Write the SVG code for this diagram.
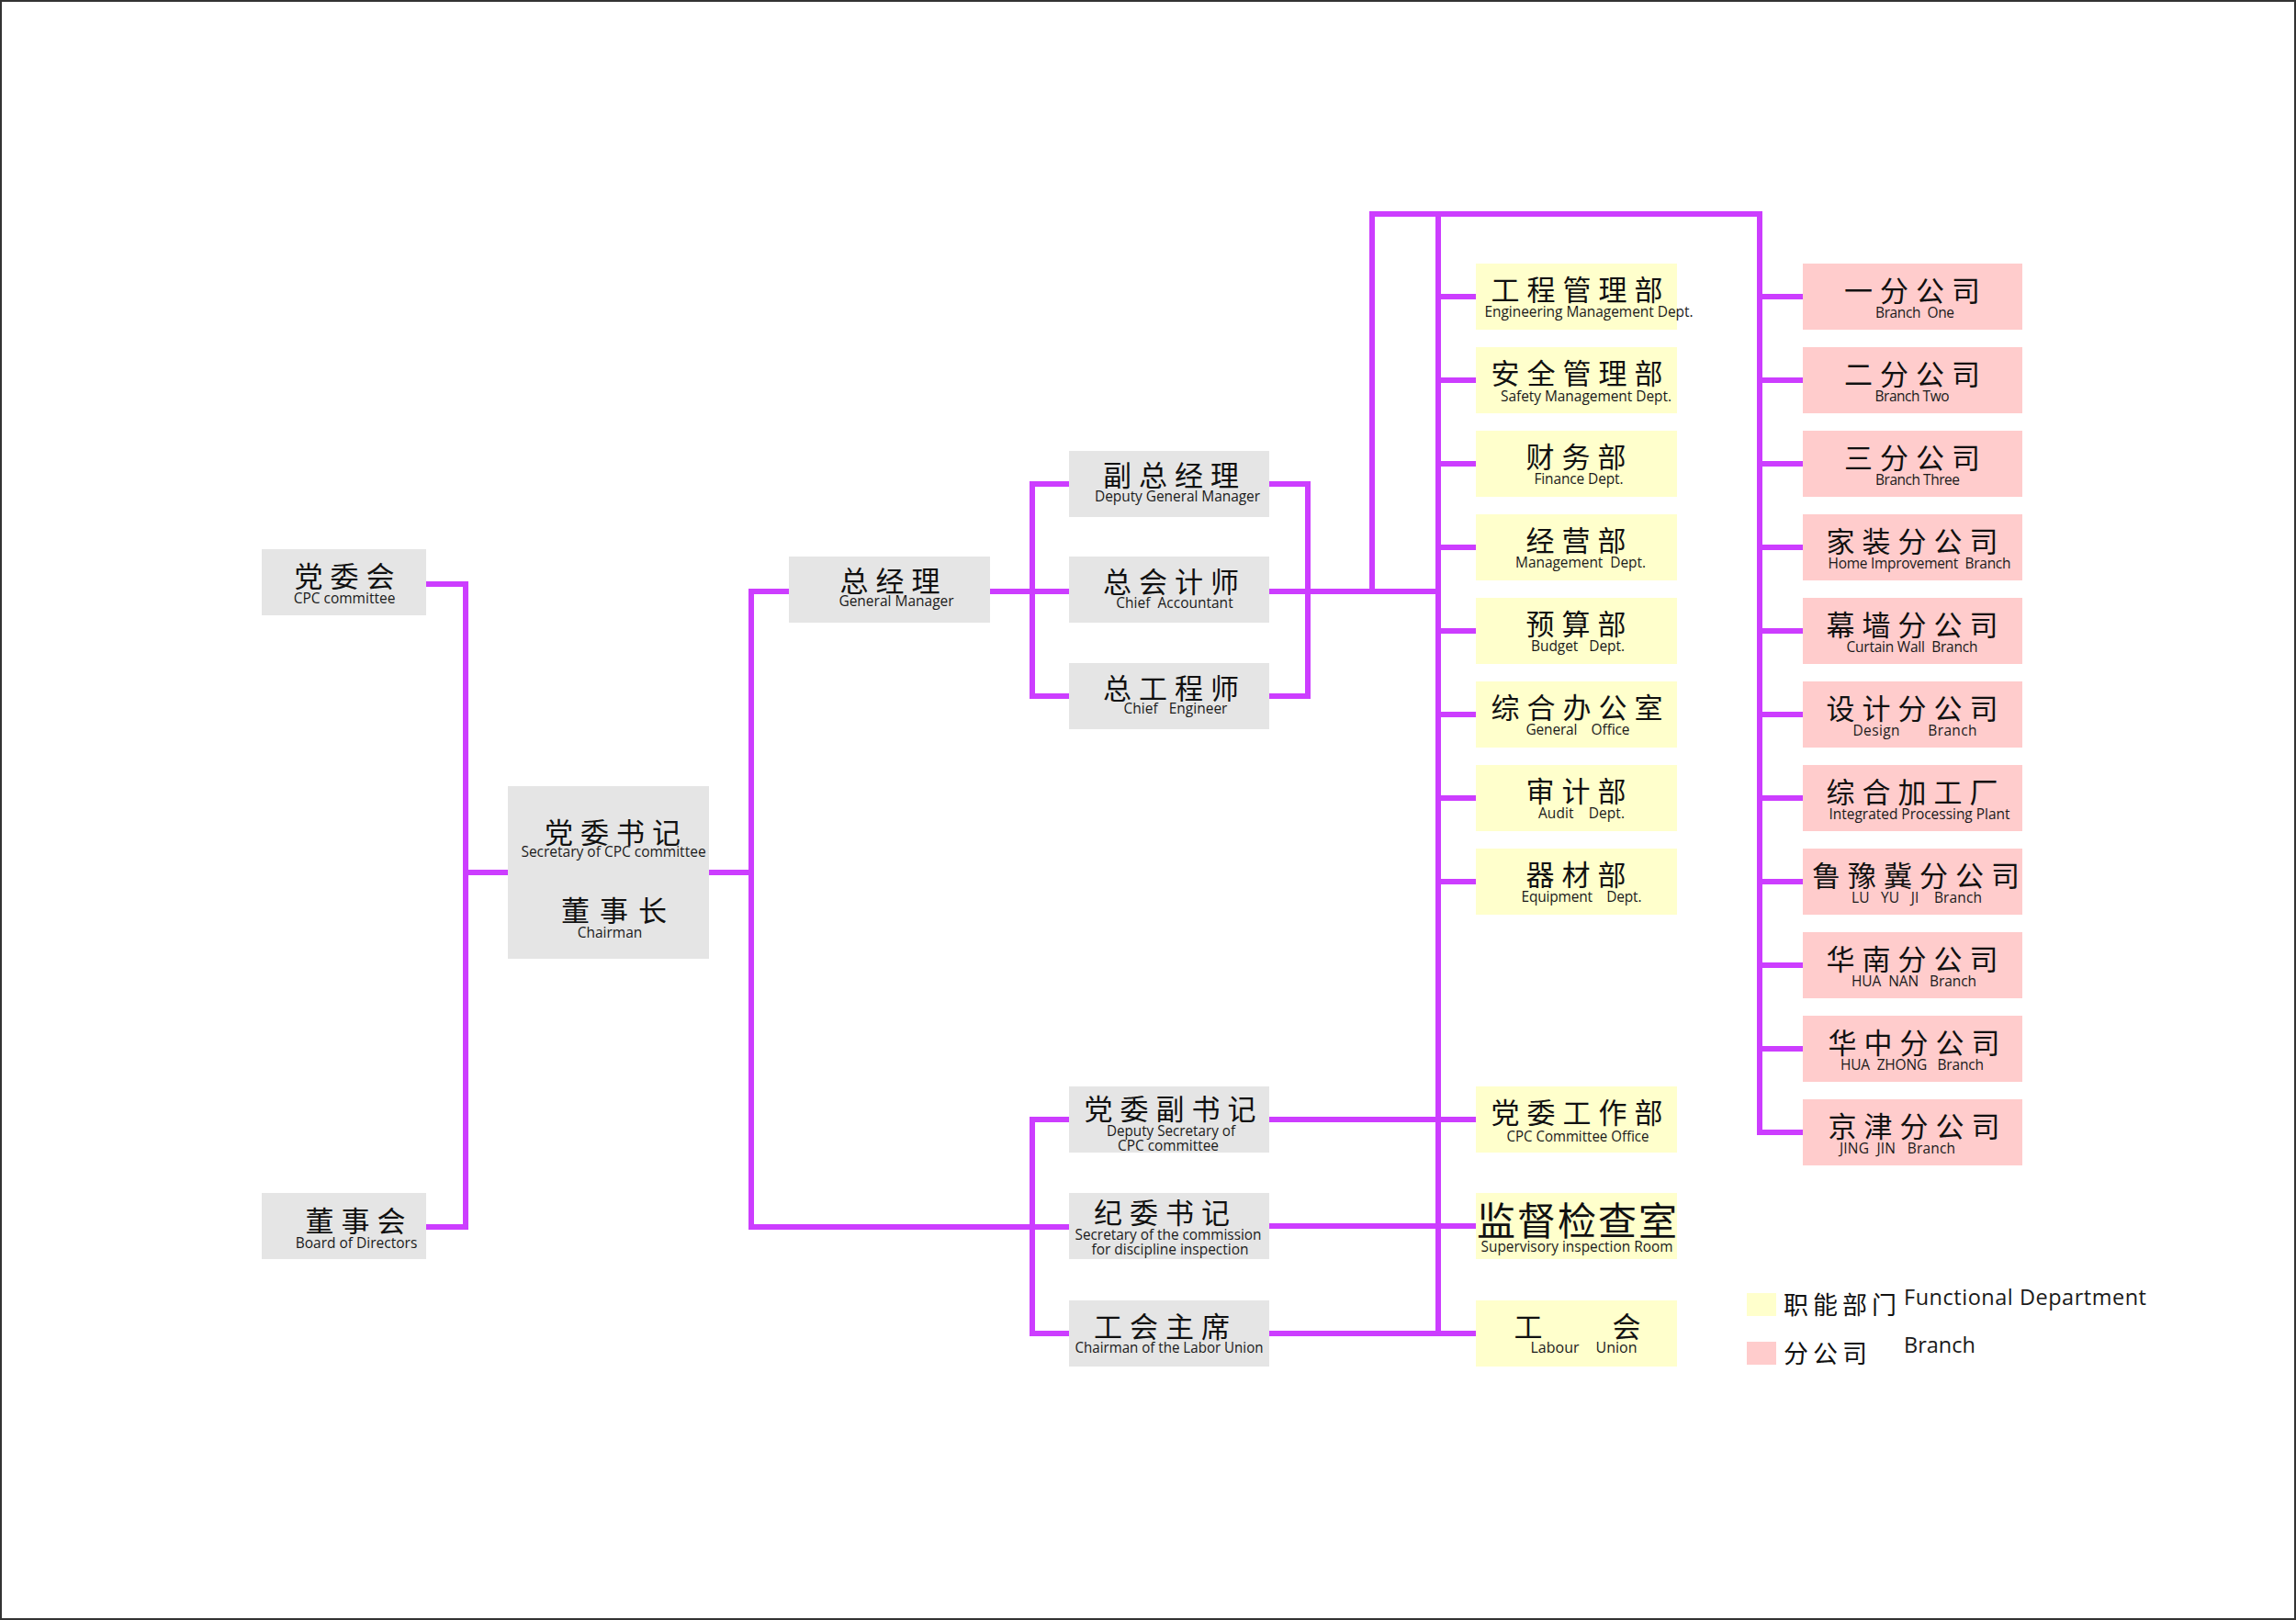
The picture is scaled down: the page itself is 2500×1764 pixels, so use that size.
<svg xmlns="http://www.w3.org/2000/svg" width="2500" height="1764" viewBox="0 0 2500 1764">
<style>
.g{fill:#e5e5e5}.y{fill:#ffffcc}.p{fill:#ffcccc}
.zh{font-family:"Noto Sans CJK SC",sans-serif;font-size:31px;letter-spacing:8px;fill:#111;text-anchor:middle}
.en{font-family:"Open Sans","Noto Sans",sans-serif;font-size:15.5px;fill:#1a1a1a;text-anchor:middle}
.cn{font-family:"Open Sans","Noto Sans",sans-serif;font-size:16px;fill:#1a1a1a;text-anchor:middle}
.c{stroke:#cc3dff;stroke-width:6;fill:none;stroke-linecap:square;stroke-linejoin:miter}
</style>
<rect x="1" y="1" width="2498" height="1762" fill="#ffffff" stroke="#333333" stroke-width="2"/>
<g id="connectors" class="c">
<path d="M464,636 H507 V1336 H464"/>
<path d="M507,950 H553"/>
<path d="M772,950 H818"/>
<path d="M818,644 V1336"/>
<path d="M818,644 H859"/>
<path d="M818,1336 H1164"/>
<path d="M1078,644 H1164"/>
<path d="M1124,527 V758"/>
<path d="M1124,527 H1164"/>
<path d="M1124,758 H1164"/>
<path d="M1382,527 H1424 V758 H1382"/>
<path d="M1382,644 H1566"/>
<path d="M1494,644 V233 H1916 V1233"/>
<path d="M1566,233 V1452"/>
<path d="M1566,323 H1607 M1566,414 H1607 M1566,505 H1607 M1566,596 H1607 M1566,687 H1607 M1566,778 H1607 M1566,869 H1607 M1566,960 H1607"/>
<path d="M1382,1219 H1607 M1382,1335 H1607 M1382,1452 H1607"/>
<path d="M1124,1219 V1452"/>
<path d="M1124,1219 H1164 M1124,1452 H1164"/>
<path d="M1916,323 H1963 M1916,414 H1963 M1916,505 H1963 M1916,596 H1963 M1916,687 H1963 M1916,778 H1963 M1916,869 H1963 M1916,960 H1963 M1916,1051 H1963 M1916,1142 H1963 M1916,1233 H1963"/>
</g>
<g id="n-dangweihui"><rect class="g" x="285" y="598" width="179" height="72"/><text class="zh" x="379" y="639">党委会</text><text class="en" x="375" y="657">CPC committee</text></g>
<g id="n-dongshihui"><rect class="g" x="285" y="1299" width="179" height="72"/><text class="zh" x="391" y="1341">董事会</text><text class="en" x="388" y="1359">Board of Directors</text></g>
<g id="n-secretary-chairman"><rect class="g" x="553" y="856" width="219" height="188"/><text class="zh" x="671" y="918">党委书记</text><text class="en" x="668" y="933">Secretary of CPC committee</text><text class="zh" x="674" y="1003" style="letter-spacing:11px">董事长</text><text class="en" x="664" y="1021">Chairman</text></g>
<g id="n-gm"><rect class="g" x="859" y="606" width="219" height="72"/><text class="zh" x="973" y="644">总经理</text><text class="en" x="976" y="660">General Manager</text></g>
<g id="n-dgm"><rect class="g" x="1164" y="491" width="218" height="72"/><text class="zh" x="1279" y="529">副总经理</text><text class="en" x="1282" y="546" textLength="180">Deputy General Manager</text></g>
<g id="n-ca"><rect class="g" x="1164" y="606" width="218" height="72"/><text class="zh" x="1279" y="645">总会计师</text><text class="en" x="1279" y="662" xml:space="preserve">Chief  Accountant</text></g>
<g id="n-ce"><rect class="g" x="1164" y="722" width="218" height="72"/><text class="zh" x="1279" y="761">总工程师</text><text class="en" x="1280" y="777" xml:space="preserve">Chief   Engineer</text></g>
<g id="n-dsec"><rect class="g" x="1164" y="1183" width="218" height="72"/><text class="zh" x="1278" y="1219">党委副书记</text><text class="cn" x="1275" y="1237" textLength="140" lengthAdjust="spacingAndGlyphs">Deputy Secretary of</text><text class="cn" x="1272" y="1253" textLength="110" lengthAdjust="spacingAndGlyphs">CPC committee</text></g>
<g id="n-discipline"><rect class="g" x="1164" y="1299" width="218" height="72"/><text class="zh" x="1269" y="1332">纪委书记</text><text class="cn" x="1272" y="1350" textLength="203" lengthAdjust="spacingAndGlyphs">Secretary of the commission</text><text class="cn" x="1274" y="1366" textLength="171" lengthAdjust="spacingAndGlyphs">for discipline inspection</text></g>
<g id="n-union-chair"><rect class="g" x="1164" y="1416" width="218" height="72"/><text class="zh" x="1269" y="1456">工会主席</text><text class="cn" x="1273" y="1473" textLength="205" lengthAdjust="spacingAndGlyphs">Chairman of the Labor Union</text></g>
<g id="n-eng"><rect class="y" x="1607" y="287" width="219" height="72"/><text class="zh" x="1721" y="327">工程管理部</text><text class="en" x="1730" y="345" textLength="227">Engineering Management Dept.</text></g>
<g id="n-safety"><rect class="y" x="1607" y="378" width="219" height="72"/><text class="zh" x="1721" y="418">安全管理部</text><text class="en" x="1727" y="437" textLength="186">Safety Management Dept.</text></g>
<g id="n-finance"><rect class="y" x="1607" y="469" width="219" height="72"/><text class="zh" x="1720" y="509">财务部</text><text class="en" x="1719" y="527" textLength="97">Finance Dept.</text></g>
<g id="n-mgmt"><rect class="y" x="1607" y="560" width="219" height="72"/><text class="zh" x="1720" y="600">经营部</text><text class="en" x="1721" y="618" textLength="142" xml:space="preserve">Management  Dept.</text></g>
<g id="n-budget"><rect class="y" x="1607" y="651" width="219" height="72"/><text class="zh" x="1720" y="691">预算部</text><text class="en" x="1718" y="709" textLength="102" xml:space="preserve">Budget   Dept.</text></g>
<g id="n-office"><rect class="y" x="1607" y="742" width="219" height="72"/><text class="zh" x="1721" y="782">综合办公室</text><text class="en" x="1718" y="800" textLength="113" xml:space="preserve">General    Office</text></g>
<g id="n-audit"><rect class="y" x="1607" y="833" width="219" height="72"/><text class="zh" x="1720" y="873">审计部</text><text class="en" x="1722" y="891" textLength="94" xml:space="preserve">Audit    Dept.</text></g>
<g id="n-equip"><rect class="y" x="1607" y="924" width="219" height="72"/><text class="zh" x="1720" y="964">器材部</text><text class="en" x="1722" y="982" textLength="131" xml:space="preserve">Equipment    Dept.</text></g>
<g id="n-cpcoffice"><rect class="y" x="1607" y="1183" width="219" height="72"/><text class="zh" x="1721" y="1223">党委工作部</text><text class="cn" x="1718" y="1243" textLength="155" lengthAdjust="spacingAndGlyphs">CPC Committee Office</text></g>
<g id="n-inspection"><rect class="y" x="1607" y="1299" width="219" height="72"/><text class="zh" x="1718" y="1345" style="font-size:42px;letter-spacing:2px">监督检查室</text><text class="cn" x="1717" y="1363" textLength="209" lengthAdjust="spacingAndGlyphs">Supervisory inspection Room</text></g>
<g id="n-union"><rect class="y" x="1607" y="1416" width="219" height="72"/><text class="zh" x="1664" y="1456" style="letter-spacing:0">工</text><text class="zh" x="1771" y="1456" style="letter-spacing:0">会</text><text class="cn" x="1693" y="1473">Labour</text><text class="cn" x="1760" y="1473">Union</text></g>
<g id="n-b1"><rect class="p" x="1963" y="287" width="239" height="72"/><text class="zh" x="2086" y="328">一分公司</text><text class="en" x="2085" y="346" textLength="86" xml:space="preserve">Branch  One</text></g>
<g id="n-b2"><rect class="p" x="1963" y="378" width="239" height="72"/><text class="zh" x="2086" y="419">二分公司</text><text class="en" x="2082" y="437" textLength="81">Branch Two</text></g>
<g id="n-b3"><rect class="p" x="1963" y="469" width="239" height="72"/><text class="zh" x="2086" y="510">三分公司</text><text class="en" x="2088" y="528" textLength="92">Branch Three</text></g>
<g id="n-b4"><rect class="p" x="1963" y="560" width="239" height="72"/><text class="zh" x="2086" y="601">家装分公司</text><text class="en" x="2090" y="619" textLength="199" xml:space="preserve">Home Improvement  Branch</text></g>
<g id="n-b5"><rect class="p" x="1963" y="651" width="239" height="72"/><text class="zh" x="2086" y="692">幕墙分公司</text><text class="en" x="2082" y="710" textLength="143" xml:space="preserve">Curtain Wall  Branch</text></g>
<g id="n-b6"><rect class="p" x="1963" y="742" width="239" height="72"/><text class="zh" x="2086" y="783">设计分公司</text><text class="en" x="2085" y="801" textLength="135" xml:space="preserve">Design       Branch</text></g>
<g id="n-b7"><rect class="p" x="1963" y="833" width="239" height="72"/><text class="zh" x="2086" y="874">综合加工厂</text><text class="en" x="2090" y="892" textLength="197">Integrated Processing Plant</text></g>
<g id="n-b8"><rect class="p" x="1963" y="924" width="239" height="72"/><text class="zh" x="2090" y="965">鲁豫冀分公司</text><text class="en" x="2087" y="983" textLength="142" xml:space="preserve">LU   YU   JI    Branch</text></g>
<g id="n-b9"><rect class="p" x="1963" y="1015" width="239" height="72"/><text class="zh" x="2086" y="1056">华南分公司</text><text class="en" x="2084" y="1074" textLength="136" xml:space="preserve">HUA  NAN   Branch</text></g>
<g id="n-b10"><rect class="p" x="1963" y="1106" width="239" height="72"/><text class="zh" x="2088" y="1147">华中分公司</text><text class="en" x="2082" y="1165" textLength="156" xml:space="preserve">HUA  ZHONG   Branch</text></g>
<g id="n-b11"><rect class="p" x="1963" y="1197" width="239" height="72"/><text class="zh" x="2088" y="1238">京津分公司</text><text class="en" x="2066" y="1256" textLength="126" xml:space="preserve">JING  JIN   Branch</text></g>
<g id="legend">
<rect class="y" x="1902" y="1408" width="32" height="25"/>
<rect class="p" x="1902" y="1461" width="32" height="25"/>
<text class="zh" x="1942" y="1431" style="text-anchor:start;font-size:27px;letter-spacing:5px">职能部门</text>
<text class="zh" x="1942" y="1484" style="text-anchor:start;font-size:27px;letter-spacing:5px">分公司</text>
<text class="en" x="2073" y="1421" style="text-anchor:start;font-size:23.5px" textLength="264">Functional Department</text>
<text class="en" x="2073" y="1473" style="text-anchor:start;font-size:23.5px">Branch</text>
</g>
</svg>
